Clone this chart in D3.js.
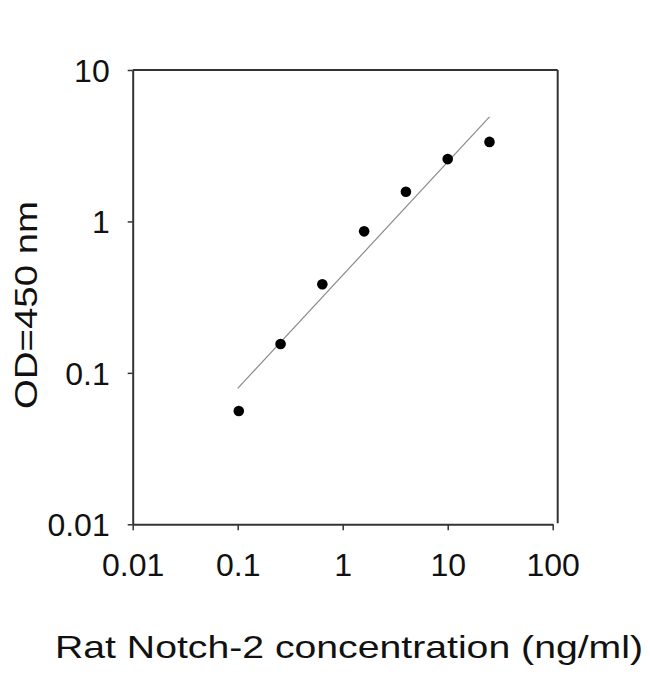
<!DOCTYPE html>
<html>
<head>
<meta charset="utf-8">
<script src="https://d3js.org/d3.v7.min.js"></script>
<style>
  body { margin: 0; background: #fff; }
  text { font-family: "Liberation Sans", Arial, sans-serif; fill: #111; }
</style>
</head>
<body>
<svg width="650" height="674"></svg>
<script>
// standard curve points (ng/ml vs OD)
var conc = [0.1024, 0.256, 0.64, 1.6, 4, 10, 25];
var od = [0.056, 0.155, 0.385, 0.86, 1.57, 2.58, 3.35];

// fitted line ends
var fitConc = [0.1, 25];
var fitOd = [0.079, 4.9];

var xTicks = [0.01, 0.1, 1, 10, 100];
var yTicks = [0.01, 0.1, 1, 10];
var tickLabels = {0.01: "0.01", 0.1: "0.1", 1: "1", 10: "10", 100: "100"};

var svg = d3.select("svg");

var x = d3.scaleLog().domain([0.01, 100]).range([132.7, 552.7]);
var y = d3.scaleLog().domain([0.01, 10]).range([524.3, 70]);

var axisColor = "#333";

// frame top and right
svg.append("line")
  .attr("x1", x(0.01)).attr("x2", x(100) + 5)
  .attr("y1", y(10)).attr("y2", y(10))
  .attr("stroke", axisColor).attr("stroke-width", 2);
svg.append("line")
  .attr("x1", x(100) + 5).attr("x2", x(100) + 5)
  .attr("y1", y(10)).attr("y2", y(0.01) - 1)
  .attr("stroke", axisColor).attr("stroke-width", 2);

var gx = svg.append("g")
  .attr("transform", "translate(0," + y(0.01) + ")")
  .call(d3.axisBottom(x).tickValues(xTicks)
    .tickFormat(function(d) { return tickLabels[d]; })
    .tickSize(6).tickPadding(23).tickSizeOuter(0));

var gy = svg.append("g")
  .attr("transform", "translate(" + x(0.01) + ",0)")
  .call(d3.axisLeft(y).tickValues(yTicks)
    .tickFormat(function(d) { return tickLabels[d]; })
    .tickSize(5).tickPadding(18).tickSizeOuter(0));

[gx, gy].forEach(function(g) {
  g.attr("font-size", 32).attr("font-family", "Liberation Sans, Arial, sans-serif");
  g.select(".domain").attr("stroke", axisColor).attr("stroke-width", 2);
  g.selectAll(".tick line").attr("stroke", axisColor).attr("stroke-width", 1.5);
  g.selectAll(".tick text").attr("fill", "#111");
});
gy.selectAll(".tick text").attr("dy", "0.36em");

// fit line
svg.append("line")
  .attr("x1", x(fitConc[0])).attr("y1", y(fitOd[0]))
  .attr("x2", x(fitConc[1])).attr("y2", y(fitOd[1]))
  .attr("stroke", "#8a8a8a").attr("stroke-width", 1.2);

// points
svg.selectAll("circle.pt")
  .data(conc)
  .enter()
  .append("circle")
  .attr("class", "pt")
  .attr("cx", function(d) { return x(d); })
  .attr("cy", function(d, i) { return y(od[i]); })
  .attr("r", 5.3)
  .attr("fill", "#000");

// axis titles
svg.append("text")
  .attr("x", 349).attr("y", 658)
  .attr("text-anchor", "middle")
  .attr("font-size", 32)
  .attr("textLength", 588).attr("lengthAdjust", "spacingAndGlyphs")
  .text("Rat Notch-2 concentration (ng/ml)");

svg.append("text")
  .attr("transform", "translate(37,305) rotate(-90)")
  .attr("text-anchor", "middle")
  .attr("font-size", 32)
  .attr("textLength", 208).attr("lengthAdjust", "spacingAndGlyphs")
  .text("OD=450 nm");
</script>
</body>
</html>
